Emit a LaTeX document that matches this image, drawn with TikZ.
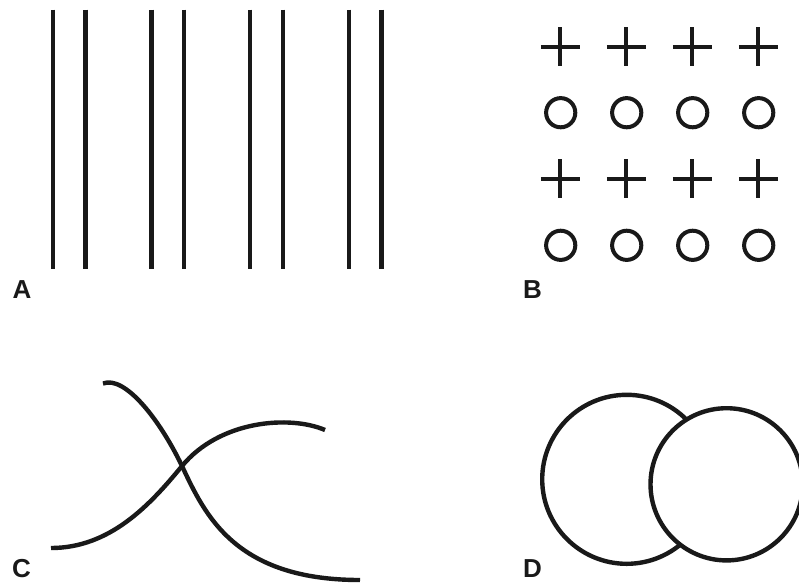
\documentclass[tikz,border=0pt]{standalone}
\usepackage{fontspec}
\setmainfont{Liberation Sans}
\begin{document}
\begin{tikzpicture}[x=1pt,y=-1pt,
  ink/.style={draw=black!90,line width=4.4pt},
  thin ink/.style={draw=black!90,line width=4pt},
  panellabel/.style={font=\bfseries\fontsize{26}{26}\selectfont,text=black!90,inner sep=0pt}]
\useasboundingbox (0,0) rectangle (799,582);
% Panel A
\foreach \x in {52.7,85.3,151.3,184,250,282.7,348.7,381.3}
  \draw[ink] (\x,9.5) -- (\x,269);
\node[panellabel] (labA) at (22,290) {A};
% Panel B
\foreach \x in {560.3,626.3,692.3,758.3}{
  \foreach \y in {46.7,178.7}{
    \draw[thin ink] (\x-19.5,\y) -- (\x+19.5,\y);
    \draw[thin ink] (\x,\y-19.5) -- (\x,\y+19.5);
  }
  \foreach \y in {112.7,245.3}
    \draw[thin ink] (\x+0.4,\y) circle (14.6);
}
\node[panellabel] (labB) at (532.5,290) {B};
% Panel C
\draw[ink] (103,383.5) .. controls (125,375) and (160,420) .. (182,466)
  .. controls (205,515) and (235,580) .. (360,580);
\draw[ink] (51,548) .. controls (110,548) and (150,505) .. (182,466)
  .. controls (220,420) and (290,415) .. (325,430);
\node[panellabel] (labC) at (21.5,569) {C};
% Panel D
\draw[ink] (626.7,479.3) circle (84.5);
\draw[ink,fill=white] (726.6,484.3) circle (76.1);
\node[panellabel] (labD) at (532.5,568.5) {D};
\end{tikzpicture}
\end{document}
